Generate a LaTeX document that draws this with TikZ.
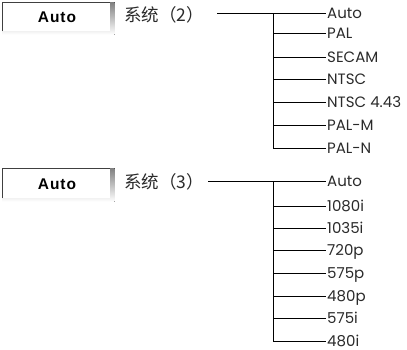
\documentclass[tikz,border=0pt]{standalone}
\usepackage{fontspec}
\newfontfamily\cjk{Noto Sans CJK SC}
\newfontfamily\lbl{Poppins}
\newfontfamily\btn[LetterSpace=6]{Liberation Sans}
\definecolor{txt}{HTML}{2A2A2A}
\definecolor{shade}{HTML}{9A9A9A}
\begin{document}
\begin{tikzpicture}[x=1pt,y=-1pt,
  leaf/.style={anchor=base west,inner sep=0pt,font=\lbl\fontsize{15}{17}\selectfont,text=txt},
  sys/.style={anchor=base west,inner sep=0pt,font=\cjk\fontsize{17.5}{19}\selectfont,text=txt},
  btnlabel/.style={anchor=base,inner sep=0pt,font=\btn\bfseries\fontsize{15.5}{17}\selectfont,text=black},
  wire/.style={line width=0.9pt,black}]
\useasboundingbox (0,0) rectangle (407,349);
% ---- button 1
\fill[shade] (2,2) rectangle (114.5,34.5);
\fill[white] (2,2) rectangle (109.5,31.2);
\draw[line width=1.2pt,black!75] (2.6,31.2) -- (2.6,2.6) -- (109.5,2.6);
\node[btnlabel] (b1) at (57,22.5) {Auto};
\node[sys] (s1) at (124,21.5) {系统（2）};
% ---- button 2
\fill[shade] (2,168) rectangle (114.5,201.5);
\fill[white] (2,168) rectangle (109.5,198.2);
\draw[line width=1.2pt,black!75] (2.6,198.2) -- (2.6,168.6) -- (109.5,168.6);
\node[btnlabel] (b2) at (57,189) {Auto};
\node[sys] (s2) at (124,188.5) {系统（3）};
% ---- tree 1
\coordinate (t1s) at (217,13.5);
\coordinate (t1j) at (273,13.5);
\foreach \n/\t/\y in {a/Auto/13.5,b/PAL/33.5,c/SECAM/57,d/NTSC/79.5,e/NTSC 4.43/102,f/PAL-M/125,g/PAL-N/148}{
  \node[leaf] (p\n) at (327,\y+5.2) {\t};
  \coordinate (q\n) at (273,\y);
  \draw[wire] (q\n) -- (326,\y);
}
\draw[wire] (t1s) -- (t1j);
\draw[wire] (qa) -- (qg);
% ---- tree 2
\coordinate (t2s) at (208,181);
\coordinate (t2j) at (273,181);
\foreach \n/\t/\y in {a/Auto/181,b/1080i/206,c/1035i/228,d/720p/250.5,e/575p/273,f/480p/296,g/575i/318.5,h/480i/341.5}{
  \node[leaf] (r\n) at (327,\y+5.2) {\t};
  \coordinate (u\n) at (273,\y);
  \draw[wire] (u\n) -- (326,\y);
}
\draw[wire] (t2s) -- (t2j);
\draw[wire] (ua) -- (uh);
\end{tikzpicture}
\end{document}
